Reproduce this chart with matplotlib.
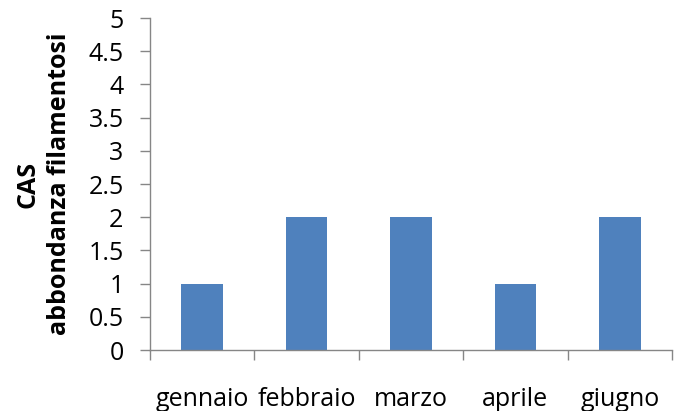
import matplotlib
matplotlib.use('Agg')
import matplotlib.pyplot as plt
import numpy as np

# abbondanza filamentosi per mese
mesi = ['gennaio', 'febbraio', 'marzo', 'aprile', 'giugno']
abbondanza = [1, 2, 2, 1, 2]
yticks = [0, 0.5, 1, 1.5, 2, 2.5, 3, 3.5, 4, 4.5, 5]

plt.rcParams['font.family'] = ['Open Sans', 'DejaVu Sans']

W, H = 675, 411
fig = plt.figure(figsize=(W / 100, H / 100), dpi=100)
ax = fig.add_axes([150 / W, 1 - 350 / H, 522 / W, 332 / H])

x = np.arange(len(mesi))
ax.bar(x, abbondanza, width=0.4, color='#4F81BD', zorder=2)

ax.set_xlim(-0.5, len(mesi) - 0.5)
ax.set_ylim(0, 5)
ax.set_yticks(yticks)
ax.set_yticklabels([('%g' % v) for v in yticks], fontsize=18)

# tacche tra le categorie, etichette al centro
ax.set_xticks(np.arange(-0.5, len(mesi)), minor=False)
ax.set_xticklabels([])
ax.set_xticks(x, minor=True)
ax.set_xticklabels(mesi, minor=True, fontsize=18)
ax.tick_params(axis='x', which='minor', length=0, pad=27)
ax.tick_params(axis='x', which='major', length=7, width=1, color='#868686')
ax.tick_params(axis='y', length=7, width=1, color='#868686', pad=12)

for s in ['top', 'right']:
    ax.spines[s].set_visible(False)
for s in ['left', 'bottom']:
    ax.spines[s].set_color('#868686')
    ax.spines[s].set_linewidth(1)

ax.set_ylabel('CAS\nabbondanza filamentosi', fontsize=18, fontweight='bold',
              linespacing=1.3, labelpad=12)

fig.savefig('out.png', dpi=100)
